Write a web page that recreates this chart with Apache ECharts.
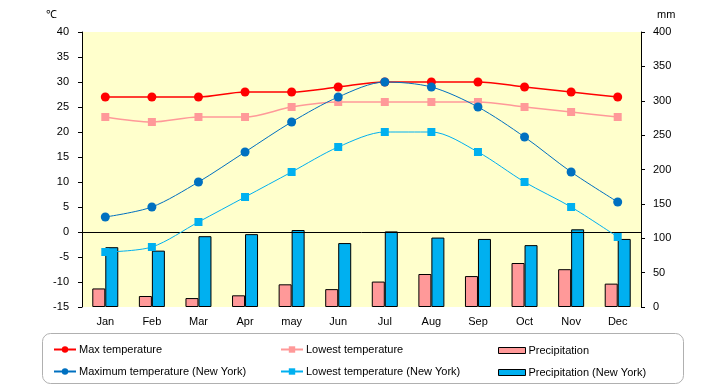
<!DOCTYPE html>
<html><head><meta charset="utf-8">
<script src="https://cdn.jsdelivr.net/npm/echarts@6/dist/echarts.min.js"></script>
<style>html,body{margin:0;padding:0;background:#fff}#c{width:720px;height:385px}</style>
</head><body><div id="c"></div>
<script>
const months = ['Jan','Feb','Mar','Apr','may','Jun','Jul','Aug','Sep','Oct','Nov','Dec'];
const maxTemp = [27,27,27,28,28,29,30,30,30,29,28,27];
const lowTemp = [23,22,23,23,25,26,26,26,26,25,24,23];
const precip = [27,16,13,17,33,26,37,48,45,64,55,34];
const nyMax = [3,5,10,16,22,27,30,29,25,19,12,6];
const nyLow = [-4,-3,2,7,12,17,20,20,16,10,5,-1];
const nyPrecip = [87,82,103,106,112,93,110,101,99,90,113,99];
const tempTicks = {min:-15,max:40,interval:5};
const precipTicks = {min:0,max:400,interval:50};

const font = 'Liberation Sans, Arial, sans-serif';
const chart = echarts.init(document.getElementById('c'));
const txt = {fontFamily:font,fontSize:11,color:'#000'};
function lg(name, left, top, extra){
  return Object.assign({data:[name],left:left,top:top,itemWidth:22,itemHeight:8,itemGap:0,padding:0,
    textStyle:Object.assign({},txt,{padding:[0,0,0,-2]}),selectedMode:false},extra||{});
}
const barLegend = {itemWidth:27,itemHeight:6,icon:'rect',itemStyle:{borderWidth:1,borderColor:'#000'}};
chart.setOption({
  animation:false,
  grid:{left:82,right:79,top:32,bottom:78,show:true,backgroundColor:'#FFFFCC',borderWidth:0},
  graphic:[{type:'rect',shape:{x:42.5,y:333.5,width:641,height:50,r:8},style:{fill:'none',stroke:'#b0b0b0',lineWidth:1},z:-1}],
  legend:[
    lg('Max temperature',53,344),
    lg('Lowest temperature',280,344),
    lg('Precipitation',498,345,barLegend),
    lg('Maximum temperature (New York)',53,366),
    lg('Lowest temperature (New York)',280,366),
    lg('Precipitation (New York)',498,367,barLegend)
  ],
  xAxis:{type:'category',data:months,axisLine:{show:false},axisTick:{show:false},
    axisLabel:Object.assign({},txt,{margin:9})},
  yAxis:[
    {type:'value',min:tempTicks.min,max:tempTicks.max,interval:tempTicks.interval,
     name:'℃',nameLocation:'end',nameGap:12,nameTextStyle:Object.assign({},txt,{align:'right',padding:[0,25,0,0]}),
     axisLine:{show:true,lineStyle:{color:'#000'}},axisTick:{show:true,length:4,lineStyle:{color:'#000'}},
     splitLine:{show:false},axisLabel:Object.assign({},txt,{margin:13})},
    {type:'value',min:precipTicks.min,max:precipTicks.max,interval:precipTicks.interval,position:'right',
     name:'mm',nameLocation:'end',nameGap:12,nameTextStyle:Object.assign({},txt,{align:'left',padding:[0,0,0,16]}),
     axisLine:{show:true,lineStyle:{color:'#000'}},axisTick:{show:true,length:4,lineStyle:{color:'#000'}},
     splitLine:{show:false},axisLabel:Object.assign({},txt,{margin:12})}
  ],
  series:[
    {name:'Precipitation',type:'bar',yAxisIndex:1,data:precip,barWidth:13,barGap:'0%',
     itemStyle:{color:'#FF9999',borderColor:'#000',borderWidth:1}},
    {name:'Precipitation (New York)',type:'bar',yAxisIndex:1,data:nyPrecip,barWidth:13,barGap:'0%',
     itemStyle:{color:'#00B0F0',borderColor:'#000',borderWidth:1}},
    {name:'Max temperature',type:'line',data:maxTemp,smooth:0.3,symbol:'circle',symbolSize:9,
     lineStyle:{color:'#FF0000',width:1.5},itemStyle:{color:'#FF0000'},z:5,
     markLine:{silent:true,symbol:'none',label:{show:false},lineStyle:{color:'#000',type:'solid',width:1},
       data:[{yAxis:0}],z:3}},
    {name:'Lowest temperature',type:'line',data:lowTemp,smooth:0.3,symbol:'rect',symbolSize:8,
     lineStyle:{color:'#FF9999',width:1.5},itemStyle:{color:'#FF9999'},z:5},
    {name:'Maximum temperature (New York)',type:'line',data:nyMax,smooth:0.3,symbol:'circle',symbolSize:9,
     lineStyle:{color:'#0070C0',width:1},itemStyle:{color:'#0070C0'},z:5},
    {name:'Lowest temperature (New York)',type:'line',data:nyLow,smooth:0.3,symbol:'rect',symbolSize:8,
     lineStyle:{color:'#00B0F0',width:1},itemStyle:{color:'#00B0F0'},z:5}
  ]
});
</script></body></html>
